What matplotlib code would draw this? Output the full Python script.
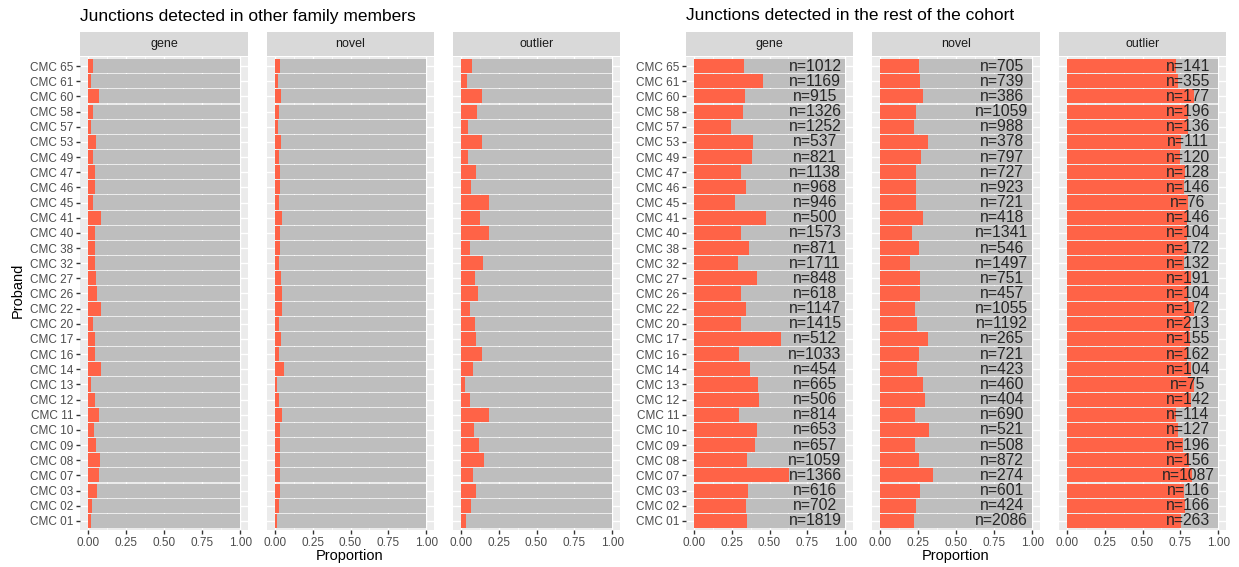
import matplotlib.pyplot as plt
import numpy as np

plt.rcParams['font.family'] = ['Liberation Sans', 'DejaVu Sans']

# --- datos ---
probands = ["CMC 65", "CMC 61", "CMC 60", "CMC 58", "CMC 57", "CMC 53", "CMC 49",
            "CMC 47", "CMC 46", "CMC 45", "CMC 41", "CMC 40", "CMC 38", "CMC 32",
            "CMC 27", "CMC 26", "CMC 22", "CMC 20", "CMC 17", "CMC 16", "CMC 14",
            "CMC 13", "CMC 12", "CMC 11", "CMC 10", "CMC 09", "CMC 08", "CMC 07",
            "CMC 03", "CMC 02", "CMC 01"]
categories = ["gene", "novel", "outlier"]

# junctions detected in other family members (proportion)
family_gene = [0.037, 0.024, 0.076, 0.037, 0.024, 0.054, 0.037, 0.046, 0.050, 0.037,
               0.089, 0.046, 0.046, 0.050, 0.054, 0.061, 0.085, 0.037, 0.046, 0.050,
               0.085, 0.020, 0.050, 0.072, 0.044, 0.057, 0.078, 0.074, 0.061, 0.030, 0.020]
family_novel = [0.033, 0.020, 0.044, 0.026, 0.020, 0.044, 0.026, 0.037, 0.033, 0.030,
                0.052, 0.037, 0.037, 0.030, 0.044, 0.048, 0.048, 0.030, 0.044, 0.030,
                0.059, 0.017, 0.030, 0.052, 0.037, 0.037, 0.037, 0.037, 0.037, 0.026, 0.017]
family_outlier = [0.075, 0.040, 0.138, 0.110, 0.051, 0.143, 0.051, 0.103, 0.070, 0.185,
                  0.127, 0.185, 0.064, 0.149, 0.092, 0.116, 0.064, 0.092, 0.099, 0.143,
                  0.079, 0.029, 0.064, 0.185, 0.086, 0.121, 0.152, 0.079, 0.103, 0.068, 0.035]

# junctions detected in the rest of the cohort (proportion)
cohort_gene = [0.333, 0.460, 0.337, 0.326, 0.249, 0.390, 0.383, 0.311, 0.344, 0.274,
               0.477, 0.311, 0.368, 0.291, 0.418, 0.315, 0.344, 0.311, 0.573, 0.298,
               0.372, 0.425, 0.431, 0.298, 0.418, 0.403, 0.350, 0.626, 0.361, 0.344, 0.350]
cohort_novel = [0.258, 0.265, 0.282, 0.239, 0.223, 0.315, 0.269, 0.241, 0.241, 0.241,
                0.287, 0.210, 0.258, 0.197, 0.265, 0.265, 0.230, 0.247, 0.317, 0.258,
                0.247, 0.282, 0.300, 0.230, 0.324, 0.234, 0.258, 0.350, 0.265, 0.241, 0.223]
cohort_outlier = [0.719, 0.736, 0.837, 0.800, 0.800, 0.756, 0.750, 0.778, 0.771, 0.800,
                  0.793, 0.793, 0.793, 0.771, 0.821, 0.800, 0.837, 0.815, 0.815, 0.793,
                  0.821, 0.837, 0.821, 0.719, 0.736, 0.767, 0.806, 0.828, 0.771, 0.778, 0.756]

# numero total de uniones por proband
n_gene = [1012, 1169, 915, 1326, 1252, 537, 821, 1138, 968, 946, 500, 1573, 871, 1711,
          848, 618, 1147, 1415, 512, 1033, 454, 665, 506, 814, 653, 657, 1059, 1366,
          616, 702, 1819]
n_novel = [705, 739, 386, 1059, 988, 378, 797, 727, 923, 721, 418, 1341, 546, 1497,
           751, 457, 1055, 1192, 265, 721, 423, 460, 404, 690, 521, 508, 872, 274,
           601, 424, 2086]
n_outlier = [141, 355, 177, 196, 136, 111, 120, 128, 146, 76, 146, 104, 172, 132,
             191, 104, 172, 213, 155, 162, 104, 75, 142, 114, 127, 196, 156, 1087,
             116, 166, 263]

x_ticks = [0.0, 0.25, 0.5, 0.75, 1.0]
x_ticklabels = ["0.00", "0.25", "0.50", "0.75", "1.00"]

W, H = 1239, 567
fig = plt.figure(figsize=(W / 100, H / 100), dpi=100)


def px_axes(x0, y0, x1, y1):
    return fig.add_axes([x0 / W, 1 - y1 / H, (x1 - x0) / W, (y1 - y0) / H])


def draw_panel(x0, x1, cat, values, counts, show_y):
    ax = px_axes(x0, 57, x1, 530)
    ax.set_facecolor("#EBEBEB")
    y = np.arange(len(probands))[::-1]
    ax.barh(y, np.ones(len(probands)), height=0.93, color="#BEBEBE", zorder=2)
    ax.barh(y, values, height=0.93, color="#FF6347", zorder=3)
    if counts is not None:
        for yi, c in zip(y, counts):
            ax.text(0.8, yi, f"n={c}", ha="center", va="center", fontsize=11.3,
                    color="#262626", zorder=4)
    ax.set_xlim(-0.05, 1.05)
    ax.set_ylim(-0.6, len(probands) - 0.4)
    ax.set_xticks(x_ticks)
    ax.set_xticklabels(x_ticklabels)
    ax.set_xticks([0.125, 0.375, 0.625, 0.875], minor=True)
    ax.set_yticks(y)
    ax.grid(True, which="major", color="white", linewidth=1.0, zorder=1)
    ax.grid(True, which="minor", axis="x", color="white", linewidth=0.5, zorder=1)
    ax.set_axisbelow(True)
    for s in ax.spines.values():
        s.set_visible(False)
    ax.tick_params(axis="both", which="major", colors="#333333", labelcolor="#4D4D4D",
                   labelsize=8.5, length=3, width=1, pad=2)
    ax.tick_params(axis="x", which="minor", length=0)
    if show_y:
        ax.set_yticklabels(probands)
    else:
        ax.set_yticklabels([])
        ax.tick_params(axis="y", which="both", length=0)

    # strip
    sx = px_axes(x0, 32, x1, 56)
    sx.set_facecolor("#D9D9D9")
    sx.set_xticks([])
    sx.set_yticks([])
    for s in sx.spines.values():
        s.set_visible(False)
    sx.text(0.5, 0.5, cat, ha="center", va="center", fontsize=9, color="#1A1A1A",
            transform=sx.transAxes)
    return ax


left_panels = [(80, 248), (267, 434), (453, 620)]
right_panels = [(686, 853), (872, 1040), (1059, 1226)]
family_vals = [family_gene, family_novel, family_outlier]
cohort_vals = [cohort_gene, cohort_novel, cohort_outlier]
cohort_n = [n_gene, n_novel, n_outlier]

for i, (x0, x1) in enumerate(left_panels):
    draw_panel(x0, x1, categories[i], family_vals[i], None, i == 0)
for i, (x0, x1) in enumerate(right_panels):
    draw_panel(x0, x1, categories[i], cohort_vals[i], cohort_n[i], i == 0)

fig.text(80 / W, 1 - 16 / H, "Junctions detected in other family members",
         ha="left", va="center", fontsize=12.5, color="black")
fig.text(686 / W, 1 - 16 / H, "Junctions detected in the rest of the cohort",
         ha="left", va="center", fontsize=12.5, color="black")
fig.text(350 / W, 1 - 556 / H, "Proportion", ha="center", va="center", fontsize=10.5)
fig.text(956 / W, 1 - 556 / H, "Proportion", ha="center", va="center", fontsize=10.5)
fig.text(18 / W, 1 - 290 / H, "Proband", ha="center", va="center", fontsize=10.5,
         rotation=90)

fig.savefig("out.png", dpi=100, facecolor="white")
